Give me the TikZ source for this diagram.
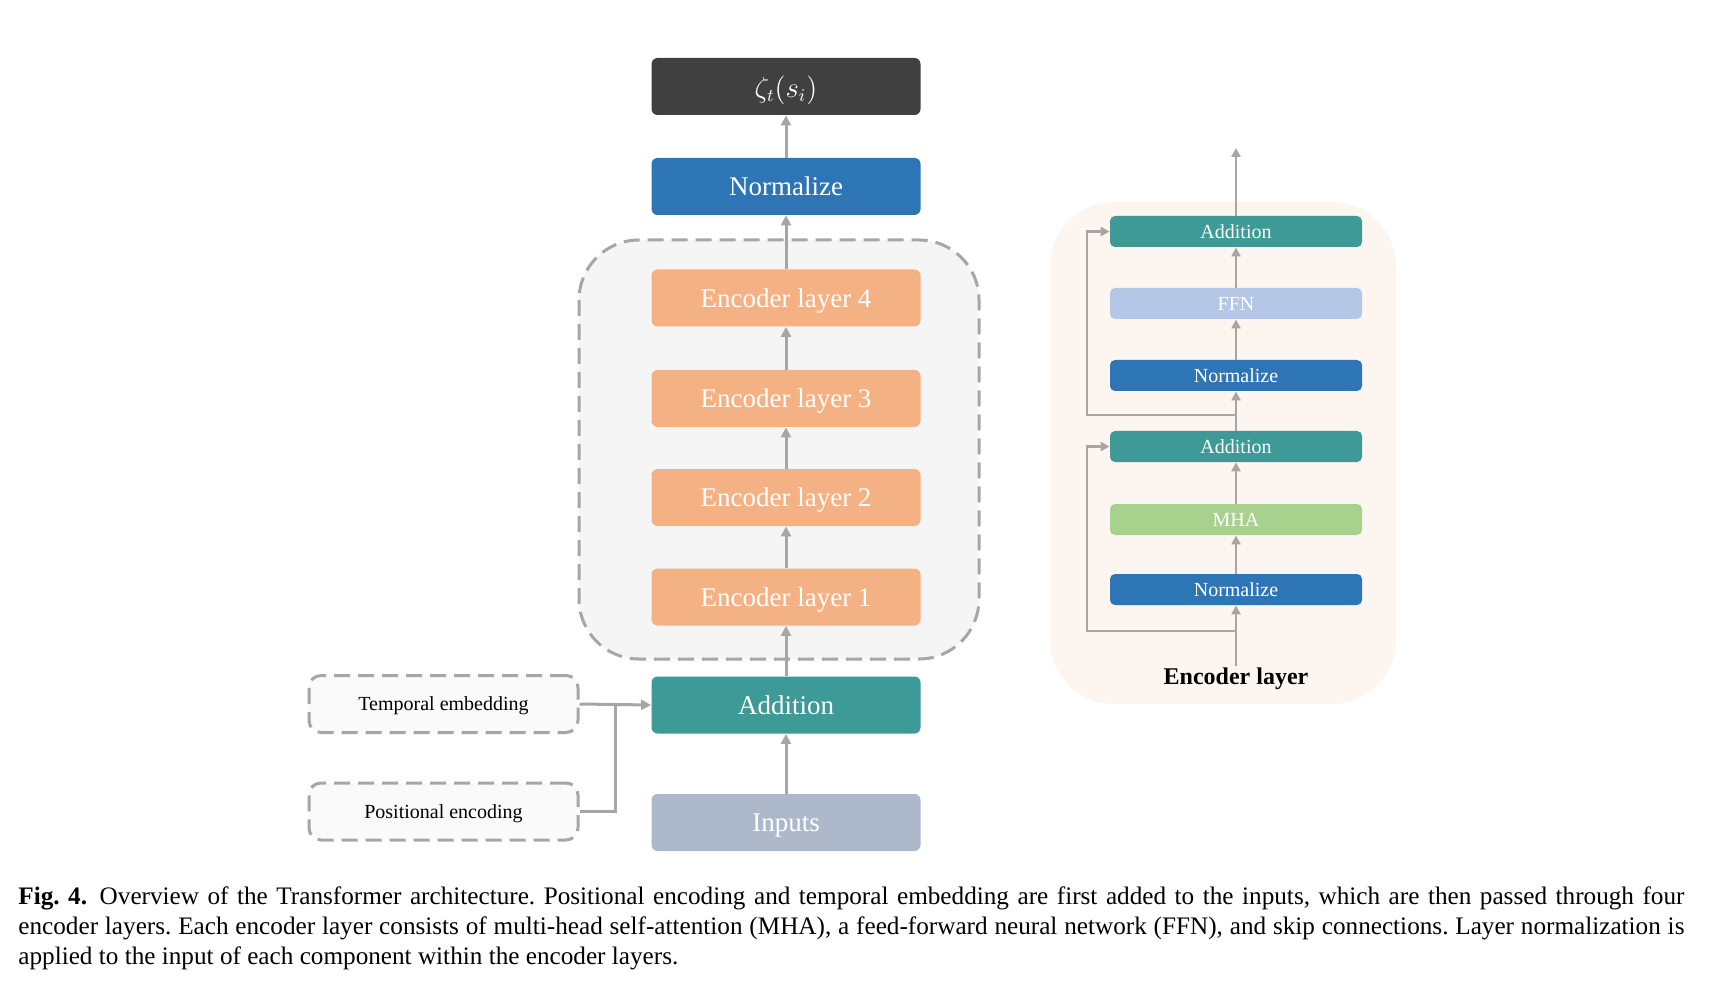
\documentclass[tikz,border=0pt]{standalone}
\usepackage{fontspec}
\setmainfont{Liberation Serif}
\usetikzlibrary{positioning, arrows.meta, calc}
\definecolor{darkbox}{RGB}{64, 64, 64}
\definecolor{normblue}{RGB}{46, 117, 182}
\definecolor{encorange}{RGB}{244, 177, 131}
\definecolor{addteal}{RGB}{61, 154, 151}
\definecolor{inputgray}{RGB}{173, 185, 202}
\definecolor{ffnblue}{RGB}{180, 199, 231}
\definecolor{mhagreen}{RGB}{169, 209, 142}
\definecolor{layerbg}{RGB}{253, 245, 239}
\definecolor{stackbg}{RGB}{245, 245, 245}
\definecolor{extbg}{RGB}{250, 250, 250}
\definecolor{linegray}{RGB}{166, 166, 166}

\begin{document}
\begin{tikzpicture}[x=0.5pt, y=-0.5pt,
    mainbox/.style={rectangle, rounded corners=3pt, inner sep=0pt,
        minimum width=134.5pt, minimum height=28.5pt, text=white,
        text depth=0pt, font=\fontsize{13.5}{16}\selectfont},
    smallbox/.style={rectangle, rounded corners=2.5pt, inner sep=0pt,
        minimum width=126pt, minimum height=15.5pt, text=white,
        text depth=0pt, font=\fontsize{10}{12}\selectfont},
    extbox/.style={rectangle, rounded corners=6pt, inner sep=0pt,
        draw=linegray, line width=1.5pt, dash pattern={on 8pt off 4pt},
        fill=extbg, minimum width=134.5pt, minimum height=28.5pt,
        text depth=0pt, font=\fontsize{10}{12}\selectfont},
    flow/.style={draw=linegray, line width=1.5pt,
        -{Triangle[length=5pt, width=5pt]}},
    thinflow/.style={draw=linegray, line width=1.3pt,
        -{Triangle[length=4.5pt, width=4.5pt]}}
]
    % Page - 1711 x 988 px
    \fill[white] (0,0) rectangle (1711, 988);
    \useasboundingbox (0,0) rectangle (1711, 988);

    % Encoder stack container
    \draw[linegray, fill=stackbg, line width=1.5pt, rounded corners=30pt,
        dash pattern={on 8pt off 4pt}] (579, 240) rectangle (979, 659);

    % Main column
    \node[mainbox, fill=darkbox] (zeta) at (786, 86.5) {$\zeta_t(s_i)$};
    \node[mainbox, fill=normblue] (norm) at (786, 186.5) {Normalize};
    \node[mainbox, fill=encorange] (enc4) at (786, 298) {Encoder layer 4};
    \node[mainbox, fill=encorange] (enc3) at (786, 398.5) {Encoder layer 3};
    \node[mainbox, fill=encorange] (enc2) at (786, 497.5) {Encoder layer 2};
    \node[mainbox, fill=encorange] (enc1) at (786, 597) {Encoder layer 1};
    \node[mainbox, fill=addteal] (add) at (786, 705) {Addition};
    \node[mainbox, fill=inputgray] (inputs) at (786, 822.5) {Inputs};

    % Extra inputs
    \node[extbox] (temb) at (443.5, 704) {Temporal embedding};
    \node[extbox] (posenc) at (443.5, 811.5) {Positional encoding};

    \draw[flow] (inputs) -- (add);
    \draw[flow] (add) -- (enc1);
    \draw[flow] (enc1) -- (enc2);
    \draw[flow] (enc2) -- (enc3);
    \draw[flow] (enc3) -- (enc4);
    \draw[flow] (enc4) -- (norm);
    \draw[flow] (norm) -- (zeta);
    \draw[flow] (temb.east) -- (add.west);
    \coordinate (join) at (615, 704);
    \draw[draw=linegray, line width=1.5pt] (posenc.east) -| (join);

    % Encoder layer detail
    \fill[layerbg, rounded corners=32pt] (1050, 202) rectangle (1396, 704);

    \node[smallbox, fill=addteal] (eadd2) at (1236, 231.5) {Addition};
    \node[smallbox, fill=ffnblue] (effn) at (1236, 303.5) {FFN};
    \node[smallbox, fill=normblue] (enorm2) at (1236, 375.5) {Normalize};
    \node[smallbox, fill=addteal] (eadd1) at (1236, 446.5) {Addition};
    \node[smallbox, fill=mhagreen] (emha) at (1236, 519.5) {MHA};
    \node[smallbox, fill=normblue] (enorm1) at (1236, 589.5) {Normalize};
    \node[font=\fontsize{12}{14}\selectfont\bfseries, inner sep=1pt]
        (elabel) at (1236, 679) {Encoder layer};
    \coordinate (eout) at (1236, 148);

    \draw[thinflow] (elabel.north) -- (enorm1);
    \draw[thinflow] (enorm1) -- (emha);
    \draw[thinflow] (emha) -- (eadd1);
    \draw[thinflow] (eadd1) -- (enorm2);
    \draw[thinflow] (enorm2) -- (effn);
    \draw[thinflow] (effn) -- (eadd2);
    \draw[thinflow] (eadd2) -- (eout);

    % Skip connections
    \coordinate (skipa) at (1236, 631);
    \coordinate (skipaL) at (1087, 631);
    \coordinate (skipb) at (1236, 415);
    \coordinate (skipbL) at (1087, 415);
    \draw[thinflow] (skipa) -- (skipaL) |- (eadd1.west);
    \draw[thinflow] (skipb) -- (skipbL) |- (eadd2.west);

    % Caption
    \node[anchor=north west, inner sep=0pt, text width=833pt, align=justify,
        font=\fontsize{12.6}{15}\selectfont\frenchspacing] (caption) at (18, 886)
        {\textbf{Fig. 4.}\enspace Overview of the Transformer architecture. Positional encoding and temporal embedding are first added to the inputs, which are then passed through four encoder layers. Each encoder layer consists of multi-head self-attention (MHA), a feed-forward neural network (FFN), and skip connections. Layer normalization is applied to the input of each component within the encoder layers.};

\end{tikzpicture}
\end{document}
